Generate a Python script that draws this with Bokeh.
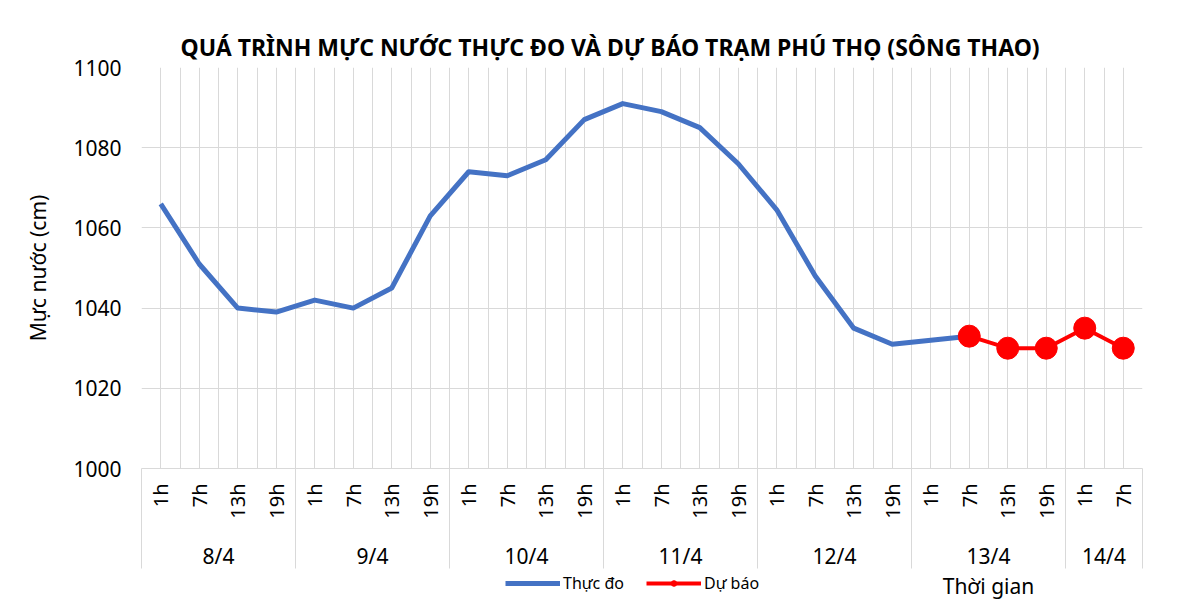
import math
from bokeh.plotting import figure
from bokeh.layouts import column
from bokeh.models import (Range1d, FixedTicker, LinearAxis, Legend, LegendItem, Grid)
from bokeh.core.properties import value
from bokeh.embed import file_html
from bokeh.resources import INLINE

# ---- data ----
days = ["8/4", "9/4", "10/4", "11/4", "12/4", "13/4", "14/4"]
hours_per_day = [4, 4, 4, 4, 4, 4, 2]
hours = ["1h", "7h", "13h", "19h"]
observed = [1066, 1051, 1040, 1039, 1042, 1040, 1045, 1063,
            1074, 1073, 1077, 1087, 1091, 1089, 1085, 1076,
            1064.5, 1048, 1035, 1031, 1032, 1033]
forecast = [1033, 1030, 1030, 1035, 1030]
y_ticks = [1000, 1020, 1040, 1060, 1080, 1100]
title_text = "QUÁ TRÌNH MỰC NƯỚC THỰC ĐO VÀ DỰ BÁO TRẠM PHÚ THỌ (SÔNG THAO)"
series_names = ["Thực đo", "Dự báo"]
x_title = "Thời gian"
x_title_day = "13/4"

FONT = "Noto Sans"
GRID = "#d9d9d9"
BLUE = "#4472C4"
RED = "#FF0000"

hour_labels = [h for cnt in hours_per_day for h in hours[:cnt]]
n = len(hour_labels)
xs = [i + 0.5 for i in range(n)]
obs_x = xs[:len(observed)]
fc_x = xs[len(observed) - 1:len(observed) - 1 + len(forecast)]
bounds = [0]
for cnt in hours_per_day:
    bounds.append(bounds[-1] + cnt)
centers = [(bounds[i] + bounds[i + 1]) / 2 for i in range(len(days))]

xr = Range1d(0, n)
p = figure(frame_width=1001, frame_height=401, x_range=xr,
           y_range=Range1d(y_ticks[0], y_ticks[-1]),
           x_axis_type=None, output_backend="svg", toolbar_location=None,
           min_border_left=141, min_border_right=60, min_border_top=67,
           min_border_bottom=99)
p.outline_line_color = None
p.background_fill_color = "white"
p.border_fill_color = "white"

# title
p.title.text = title_text
p.title.text_font = FONT
p.title.text_font_size = "23px"
p.title.text_font_style = "bold"
p.title.text_color = "black"
p.title.align = "left"
p.title.offset = 39

# y axis
yax = p.yaxis[0]
yax.ticker = FixedTicker(ticks=y_ticks)
yax.axis_line_color = None
yax.major_tick_line_color = None
yax.minor_tick_line_color = None
yax.major_tick_out = 0
yax.major_label_standoff = 20
yax.major_label_text_font = FONT
yax.major_label_text_font_size = "21px"
yax.major_label_text_color = "black"
yax.axis_label = "Mực nước (cm)"
yax.axis_label_text_font = FONT
yax.axis_label_text_font_size = "21px"
yax.axis_label_text_font_style = "normal"
yax.axis_label_text_color = "black"
yax.axis_label_standoff = 18

p.ygrid.ticker = FixedTicker(ticks=y_ticks)
p.ygrid.grid_line_color = GRID
p.ygrid.grid_line_width = 1

xgrid = Grid(dimension=0, ticker=FixedTicker(ticks=[k / 2 for k in range(2 * n + 1)]),
             grid_line_color=GRID, grid_line_width=1)
p.add_layout(xgrid)

# x axis: hours (minor ticks draw the long group separators)
ax1 = LinearAxis(ticker=FixedTicker(ticks=xs, minor_ticks=bounds),
                 major_label_overrides={x: lab for x, lab in zip(xs, hour_labels)},
                 major_label_orientation=math.pi / 2,
                 major_tick_out=0, major_tick_in=0,
                 minor_tick_in=0, minor_tick_out=100,
                 minor_tick_line_color=GRID, minor_tick_line_width=1,
                 axis_line_color=GRID, axis_line_width=1,
                 major_label_standoff=-85,
                 major_label_text_font=FONT, major_label_text_font_size="20px",
                 major_label_text_color="black")
p.add_layout(ax1, "below")

# x axis: days
ax2 = LinearAxis(ticker=FixedTicker(ticks=centers, minor_ticks=[]),
                 major_label_overrides={c: d for c, d in zip(centers, days)},
                 major_tick_out=0, major_tick_in=0, minor_tick_out=0,
                 minor_tick_line_color=None, major_tick_line_color=None,
                 axis_line_color=None, major_label_standoff=20,
                 major_label_text_font=FONT, major_label_text_font_size="21px",
                 major_label_text_color="black")
p.add_layout(ax2, "below")

# series
p.line(obs_x, observed, line_color=BLUE, line_width=5, line_join="round")
p.line(fc_x, forecast, line_color=RED, line_width=4, line_join="round")
p.scatter(fc_x, forecast, size=22, fill_color=RED, line_color=RED, marker="circle")

# ---- bottom strip: legend + x-axis title ----
q = figure(frame_width=1001, frame_height=27, x_range=xr, y_range=Range1d(0, 1),
           x_axis_type=None, y_axis_type=None, output_backend="svg",
           toolbar_location=None, min_border_left=141, min_border_right=60,
           min_border_top=0, min_border_bottom=0)
q.outline_line_color = None
q.xgrid.visible = False
q.ygrid.visible = False
q.background_fill_color = "white"
q.border_fill_color = "white"

# legend proxies: same series, outside this strip's y range (not drawn here)
l1 = q.line(obs_x, observed, line_color=BLUE, line_width=5)
l2 = q.line(fc_x, forecast, line_color=RED, line_width=4)
l3 = q.scatter(fc_x, forecast, size=7, fill_color=RED, line_color=RED, marker="circle")
legend = Legend(items=[LegendItem(label=series_names[0], renderers=[l1]),
                       LegendItem(label=series_names[1], renderers=[l2, l3])],
                orientation="horizontal", location=(364, 5),
                label_text_font=FONT, label_text_font_size="16px",
                label_text_color="black", glyph_width=55, glyph_height=14,
                label_standoff=3, spacing=22, padding=0, margin=0,
                border_line_color=None, background_fill_alpha=0)
q.add_layout(legend)

tc = centers[days.index(x_title_day)]
q.text(x=[tc], y=[0.5], text=[x_title], text_align="center",
       text_baseline="middle", text_font=value(FONT), text_font_size="21px",
       text_color="black")

layout = column(p, q, spacing=0)
open("out.html", "w").write(file_html(layout, INLINE))
